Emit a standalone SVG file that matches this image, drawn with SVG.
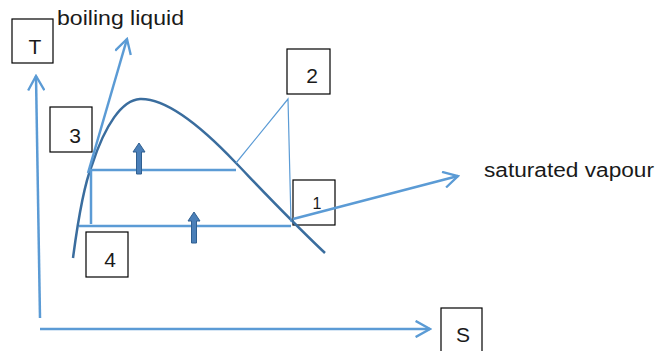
<svg xmlns="http://www.w3.org/2000/svg" width="660" height="351" viewBox="0 0 660 351">
<style>
.box{fill:#fff;stroke:#000;stroke-width:1.2}
.lbl{font-family:"Liberation Sans",Arial,sans-serif;fill:#1a1a1a}
.ln{fill:none;stroke:#5b9bd5;stroke-width:2.5;stroke-linecap:butt}
.thin{fill:none;stroke:#5b9bd5;stroke-width:1.2}
.curve{fill:none;stroke:#3a6d9e;stroke-width:2.5}
.blk{fill:#4a7fb8;stroke:#2f5f90;stroke-width:1}
</style>
<defs>
<marker id="open" viewBox="0 0 20 20" refX="18" refY="10" markerWidth="18" markerHeight="18" markerUnits="userSpaceOnUse" orient="auto">
<path d="M2,1 L18,10 L2,19" fill="none" stroke="#5b9bd5" stroke-width="2.6"/>
</marker>
</defs>
<g id="T"><rect class="box" x="12" y="19" width="41" height="44"/><text class="lbl" x="35" y="54" font-size="21" text-anchor="middle">T</text></g>
<g id="S"><rect class="box" x="441" y="308" width="41" height="48"/><text class="lbl" x="463" y="342" font-size="21" text-anchor="middle">S</text></g>
<g id="n3"><rect class="box" x="50" y="107" width="42" height="45"/><text class="lbl" x="75" y="143" font-size="21" text-anchor="middle">3</text></g>
<g id="n2"><rect class="box" x="287" y="49" width="43" height="45"/><text class="lbl" x="312" y="83" font-size="21" text-anchor="middle">2</text></g>
<g id="n1"><rect class="box" x="293" y="180" width="42" height="45"/><text class="lbl" x="317" y="209" font-size="16" text-anchor="middle">1</text></g>
<g id="n4"><rect class="box" x="86" y="232" width="42" height="45"/><text class="lbl" x="110" y="267" font-size="21" text-anchor="middle">4</text></g>
<g id="connectors">
<path class="curve" d="M73,258 C78,220 84,185 92,165 C105,125 122,100 140,99 C165,98 200,125 236,163 C260,188 285,215 325,253"/>
<line class="ln" x1="40" y1="318" x2="36" y2="76" marker-end="url(#open)"/>
<line class="ln" x1="40" y1="329" x2="430" y2="329" marker-end="url(#open)"/>
<line class="ln" x1="88" y1="173" x2="127" y2="39" marker-end="url(#open)"/>
<line class="ln" x1="293" y1="219" x2="458" y2="176" marker-end="url(#open)"/>
<line class="ln" x1="90" y1="170" x2="236" y2="170"/>
<line class="ln" x1="91" y1="170" x2="91" y2="224"/>
<line class="ln" x1="79" y1="226" x2="291" y2="226"/>
<polyline class="thin" points="236,163 288,99 291,222"/>
<path class="blk" d="M136.5,174 L136.5,152 L133,152 L139,143 L145,152 L141.5,152 L141.5,174 Z"/>
<path class="blk" d="M191.5,243 L191.5,221 L188,221 L194,212 L200,221 L196.5,221 L196.5,243 Z"/>
</g>
<g id="labels">
<text class="lbl" x="57" y="25" font-size="20" textLength="127" lengthAdjust="spacingAndGlyphs">boiling liquid</text>
<text class="lbl" x="484" y="177" font-size="20" textLength="170" lengthAdjust="spacingAndGlyphs">saturated vapour</text>
</g>
</svg>
